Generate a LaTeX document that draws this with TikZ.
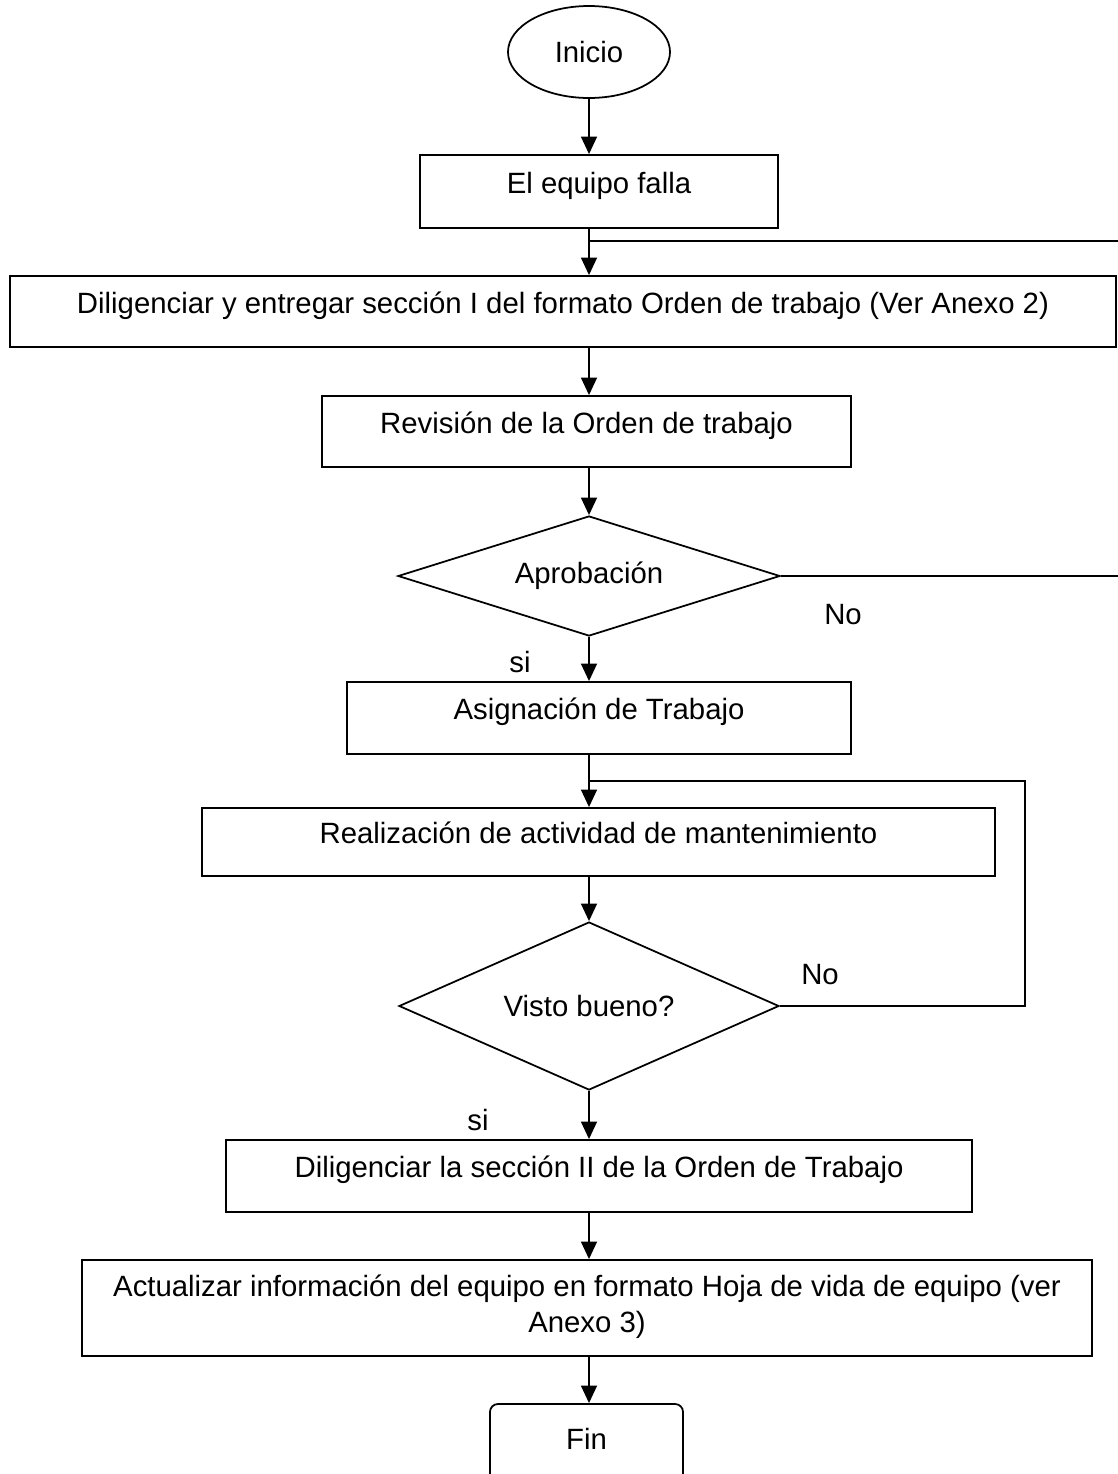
\documentclass[tikz,border=0pt]{standalone}
\usepackage{fontspec}
\setmainfont{Liberation Sans}
\usetikzlibrary{shapes.geometric,arrows.meta}
\def\u{0.02cm}
\begin{document}
\begin{tikzpicture}[x=0.02cm,y=-0.02cm,
  every node/.style={font=\fontsize{16.7}{20.4}\selectfont},
  shapebase/.style={draw, line width=1pt, inner sep=0pt},
  procbox/.style={shapebase, rectangle, text height=0.75em, text depth=0.55em},
  decision/.style={shapebase, diamond},
  terminal/.style={shapebase, ellipse},
  endbox/.style={shapebase, rectangle, rounded corners=4.5pt, text height=0.75em, text depth=0.55em},
  arr/.style={line width=1.3pt, -{Triangle[width=9pt,length=10pt]}},
  link/.style={line width=1.3pt},
  lbl/.style={inner sep=0pt}]

\fill[white] (0,0) rectangle (1118,1474);
\useasboundingbox (0,0) rectangle (1118,1474);

% main spine of the flow
\coordinate (sp) at (589,0);

% nodes
\node[terminal, minimum width=162*\u, minimum height=92*\u] (inicio) at (589,52) {Inicio};
\node[procbox, minimum width=358*\u, minimum height=73*\u] (falla) at (599,191.5) {El equipo falla};
\node[procbox, minimum width=1106*\u, minimum height=71*\u] (dilig) at (563,311.5)
  {Diligenciar y entregar sección I del formato Orden de trabajo (Ver Anexo 2)};
\node[procbox, minimum width=529*\u, minimum height=71*\u] (revision) at (586.5,431.5)
  {Revisión de la Orden de trabajo};
\node[decision, aspect=3.2, minimum width=382*\u, minimum height=120*\u] (aprob) at (589,576) {Aprobación};
\node[procbox, minimum width=504*\u, minimum height=72*\u] (asign) at (599,718)
  {Asignación de Trabajo};
\node[procbox, minimum width=793*\u, minimum height=68*\u] (realiz) at (598.5,842)
  {Realización de actividad de mantenimiento};
\node[decision, aspect=2.26, minimum width=380*\u, minimum height=168*\u] (visto) at (589,1006) {Visto bueno?};
\node[procbox, minimum width=746*\u, minimum height=72*\u] (dilig2) at (599,1176)
  {Diligenciar la sección II de la Orden de Trabajo};
\node[shapebase, rectangle, minimum width=1010*\u, minimum height=96*\u] (actual) at (587,1308)
  {\raisebox{-3.8pt}[0pt][0pt]{\begin{tabular}{@{}c@{}}Actualizar información del equipo en formato Hoja de vida de equipo (ver\\Anexo 3)\end{tabular}}};
\node[endbox, minimum width=193*\u, minimum height=88*\u] (fin) at (586.5,1448) {Fin};

% branch labels
\node[lbl] (no1) at (843,615) {No};
\node[lbl] (si1) at (520,662) {si};
\node[lbl] (no2) at (820,975) {No};
\node[lbl] (si2) at (478,1120) {si};

% connectors
\draw[arr] (inicio.south) -- (falla.north -| sp);
\draw[arr] (falla.south -| sp) -- (dilig.north -| sp);
\draw[arr] (dilig.south -| sp) -- (revision.north -| sp);
\draw[arr] (revision.south -| sp) -- (aprob.north);
\draw[arr] (aprob.south) -- (asign.north -| sp);
\draw[arr] (asign.south -| sp) -- (realiz.north -| sp);
\draw[arr] (realiz.south -| sp) -- (visto.north);
\draw[arr] (visto.south) -- (dilig2.north -| sp);
\draw[arr] (dilig2.south -| sp) -- (actual.north -| sp);
\draw[arr] (actual.south -| sp) -- (fin.north -| sp);

% return loops
\coordinate (j1) at (589,241);
\coordinate (rim) at (1135,0);
\draw[link] (aprob.east) -- (aprob.east -| rim) |- (j1);
\coordinate (j2) at (589,781);
\coordinate (loopx) at (1025,0);
\draw[link] (visto.east) -- (visto.east -| loopx) |- (j2);
\end{tikzpicture}
\end{document}
